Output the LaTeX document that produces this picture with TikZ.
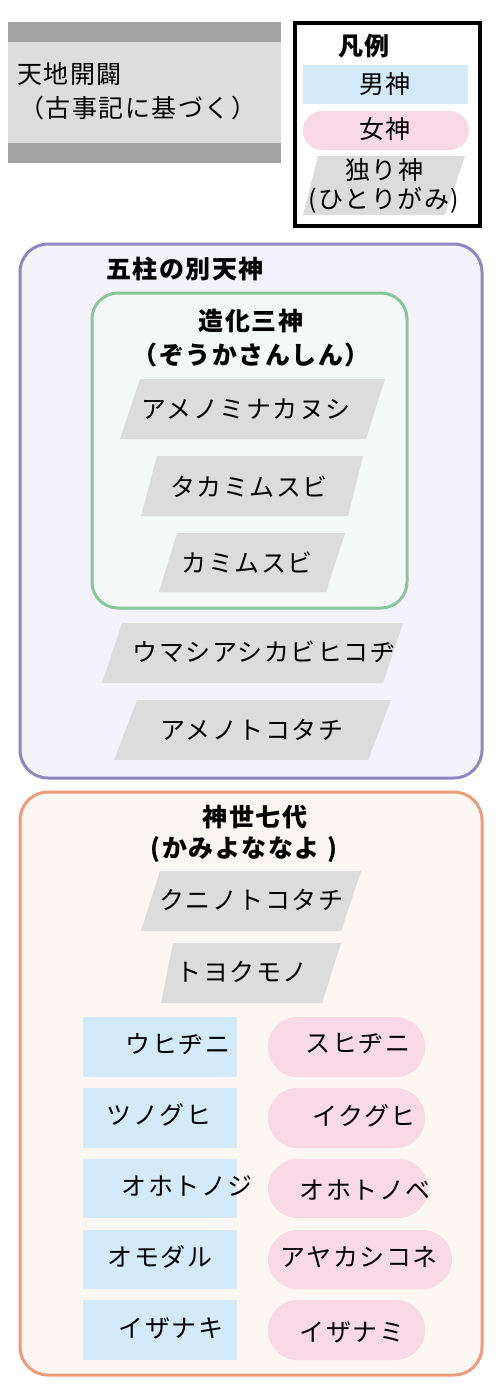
\documentclass[tikz,border=0pt]{standalone}
\usepackage{fontspec}
\newfontfamily\jp[LetterSpace=6]{Noto Sans CJK JP}
\definecolor{bandgrey}{HTML}{A3A3A3}
\definecolor{lightgrey}{HTML}{DDDDDD}
\definecolor{godgrey}{HTML}{DCDCDC}
\definecolor{maleblue}{HTML}{D2EAF9}
\definecolor{femalepink}{HTML}{F9D9E6}
\definecolor{purpleline}{HTML}{8F87C1}
\definecolor{purplefill}{HTML}{F4F3FB}
\definecolor{greenline}{HTML}{88C79B}
\definecolor{greenfill}{HTML}{F4F8F6}
\definecolor{orangeline}{HTML}{EE9B7B}
\definecolor{orangefill}{HTML}{FCF7F3}
\begin{document}
\begin{tikzpicture}[x=1pt,y=-1pt,
  txt/.style={inner sep=0pt, font=\jp\fontsize{25}{31}\selectfont, align=center},
  ttl/.style={txt, font=\jp\bfseries\fontsize{25}{31}\selectfont},
  malebox/.style={fill=maleblue},
  femalebox/.style={fill=femalepink},
  soloshape/.style={fill=godgrey},
  groupbox/.style={line width=3pt, rounded corners=28pt}
]
\useasboundingbox (0,0) rectangle (500,1393);

% title box
\fill[lightgrey] (8,22) rectangle (281,163);
\fill[bandgrey] (8,22) rectangle (281,42);
\fill[bandgrey] (8,143) rectangle (281,163);
\node[txt, anchor=west] (t1) at (17,74) {天地開闢};
\node[txt, anchor=west] (t2) at (19,108) {（古事記に基づく）};

% legend
\draw[line width=4pt] (295,23) rectangle (480,226);
\node[ttl] (lg) at (364,46) {凡例};
\fill[malebox] (303,65) rectangle (468,104);
\node[txt] (lgm) at (385,84) {男神};
\fill[femalebox, rounded corners=19.4pt] (303,111) rectangle (469,150);
\node[txt] (lgf) at (385,129) {女神};
\fill[soloshape] (318,156) -- (465,156) -- (445,215) -- (303,215) -- cycle;
\node[txt] (lgs1) at (384,170) {独り神};
\node[txt] (lgs2) at (384,200) {(ひとりがみ)};

% five separate heavenly deities
\filldraw[groupbox, draw=purpleline, fill=purplefill] (20,244) rectangle (482,778);
\node[ttl] (g1) at (185,269) {五柱の別天神};
\filldraw[groupbox, draw=greenline, fill=greenfill, rounded corners=26pt] (92,293) rectangle (407,608);
\node[ttl] (g2a) at (251,321) {造化三神};
\node[ttl] (g2b) at (251,355) {（ぞうかさんしん）};

\fill[soloshape] (140,379) -- (385,379) -- (366,439) -- (120,439) -- cycle;
\node[txt] (d1) at (246,409) {アメノミナカヌシ};
\fill[soloshape] (157,456) -- (363,456) -- (348,516) -- (141,516) -- cycle;
\node[txt] (d2) at (249,487) {タカミムスビ};
\fill[soloshape] (177,533) -- (345,533) -- (326,592) -- (159,592) -- cycle;
\node[txt] (d3) at (247,563) {カミムスビ};
\fill[soloshape] (122,623) -- (403,623) -- (383,683) -- (102,683) -- cycle;
\node[txt] (d4) at (264,652) {ウマシアシカビヒコヂ};
\fill[soloshape] (137,700) -- (391,700) -- (368,760) -- (114,760) -- cycle;
\node[txt] (d5) at (252,730) {アメノトコタチ};

% seven generations
\filldraw[groupbox, draw=orangeline, fill=orangefill] (20,792) rectangle (482,1375);
\node[ttl] (g3a) at (255,817) {神世七代};
\node[ttl] (g3b) at (244,850) {(かみよななよ )};

\fill[soloshape] (160,871) -- (361,871) -- (341,931) -- (141,931) -- cycle;
\node[txt] (d6) at (251,900) {クニノトコタチ};
\fill[soloshape] (173,943) -- (341,943) -- (322,1003) -- (161,1003) -- cycle;
\node[txt] (d7) at (242,972) {トヨクモノ};

% male
\fill[malebox] (83,1017) rectangle (237,1077);
\node[txt] (m1) at (178,1044) {ウヒヂニ};
\fill[malebox] (83,1088) rectangle (237,1148);
\node[txt] (m2) at (159,1115) {ツノグヒ};
\fill[malebox] (83,1159) rectangle (237,1218);
\node[txt] (m3) at (187,1186) {オホトノジ};
\fill[malebox] (83,1230) rectangle (237,1289);
\node[txt] (m4) at (160,1257) {オモダル};
\fill[malebox] (83,1300) rectangle (237,1360);
\node[txt] (m5) at (171,1328) {イザナキ};

% female
\fill[femalebox, rounded corners=29.5pt] (268,1017) rectangle (425,1077);
\node[txt] (f1) at (358,1044) {スヒヂニ};
\fill[femalebox, rounded corners=29.5pt] (268,1088) rectangle (425,1148);
\node[txt] (f2) at (364,1116) {イクグヒ};
\fill[femalebox, rounded corners=29.5pt] (268,1159) rectangle (428,1218);
\node[txt] (f3) at (365,1190) {オホトノベ};
\fill[femalebox, rounded corners=29.5pt] (268,1230) rectangle (452,1289);
\node[txt] (f4) at (359,1257) {アヤカシコネ};
\fill[femalebox, rounded corners=29.5pt] (268,1300) rectangle (425,1360);
\node[txt] (f5) at (352,1332) {イザナミ};
\end{tikzpicture}
\end{document}
